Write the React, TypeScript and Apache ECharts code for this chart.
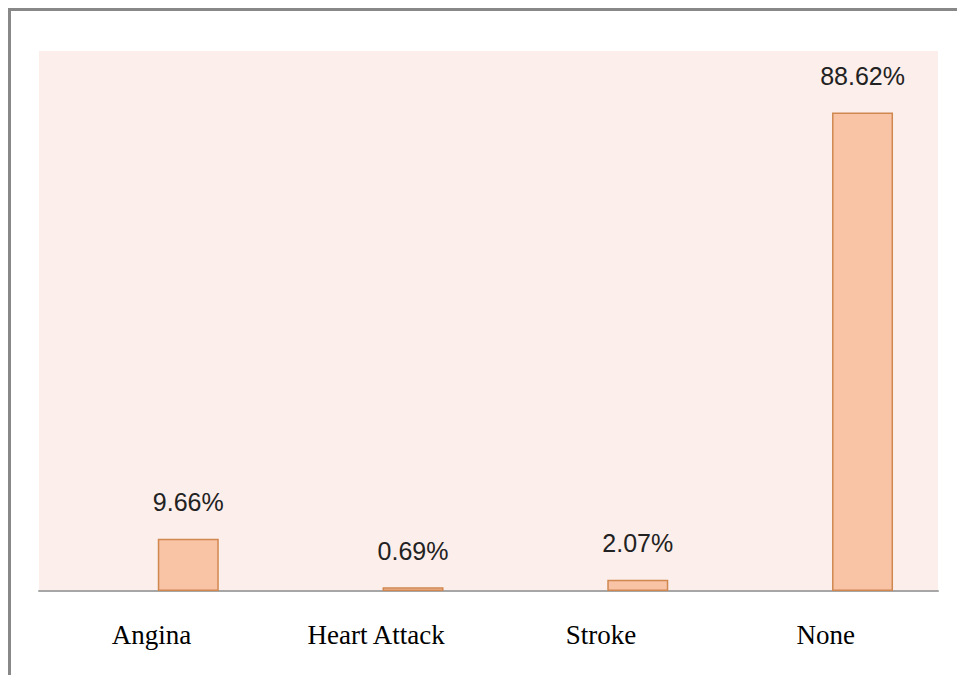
import React, { useEffect, useRef } from "react";
import * as echarts from "echarts";

const categories = ["Angina", "Heart Attack", "Stroke", "None"];
const values = [9.66, 0.69, 2.07, 88.62];
const spacer = [null, null, null, null];

export default function App() {
  const ref = useRef<HTMLDivElement>(null);
  useEffect(() => {
    document.body.style.margin = "0";
    const chart = echarts.init(ref.current!, null, { renderer: "svg" });
    chart.setOption({
      animation: false,
      backgroundColor: "#ffffff",
      graphic: [
        {
          type: "rect",
          shape: { x: 9.5, y: 9.5, width: 1000, height: 700 },
          style: { fill: "none", stroke: "#888888", lineWidth: 3 },
          silent: true,
        },
      ],
      grid: {
        left: 39,
        right: 19,
        top: 51,
        bottom: 84,
        show: true,
        backgroundColor: "#FCEEEA",
        borderWidth: 0,
      },
      xAxis: {
        type: "category",
        data: categories,
        axisTick: { show: false },
        axisLine: { show: true, lineStyle: { color: "#A6A6A6", width: 2 } },
        axisLabel: {
          fontFamily: "Liberation Serif, Times New Roman, serif",
          fontSize: 27,
          color: "#000000",
          margin: 30,
        },
      },
      yAxis: {
        type: "value",
        min: 0,
        max: 100,
        show: false,
        splitLine: { show: false },
      },
      series: [
        {
          type: "bar",
          data: spacer,
          barWidth: 61,
          barGap: "21%",
          silent: true,
        },
        {
          type: "bar",
          data: values,
          barWidth: 61,
          itemStyle: {
            color: "#F9C3A6",
            borderColor: "#D08850",
            borderWidth: 1.5,
          },
          label: {
            show: true,
            position: "top",
            distance: 24,
            formatter: (p: any) => p.value.toFixed(2) + "%",
            fontFamily: "Liberation Sans Narrow, Arial Narrow, Liberation Sans, sans-serif",
            fontSize: 25,
            color: "#222222",
          },
        },
      ],
    });
    return () => chart.dispose();
  }, []);
  return <div ref={ref} style={{ width: 957, height: 675 }} />;
}
